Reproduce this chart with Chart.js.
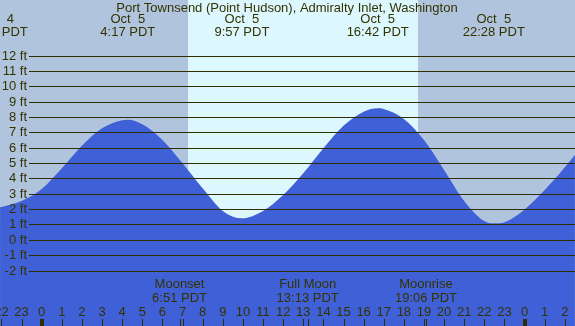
<!DOCTYPE html>
<html>
<head>
<meta charset="utf-8">
<script src="https://cdn.jsdelivr.net/npm/chart.js@4"></script>
<style>
  body { margin: 0; background: #b0c4de; }
  canvas { display: block; }
</style>
</head>
<body>
<canvas id="tide" width="575" height="326"></canvas>
<script>
// tide curve, hours from Oct 5 00:00 PDT -> feet
const tideHours = [-2.07, -1, 0, 1, 2, 3, 4, 4.28, 5, 6, 7, 8, 9, 9.95, 11, 12, 13, 14, 15, 16, 16.7, 17, 18, 19, 20, 21, 22, 22.47, 23, 24, 25, 26, 26.5];
const tideFeet  = [2.12, 2.53, 3.31, 4.66, 6.13, 7.26, 7.78, 7.82, 7.52, 6.5, 4.98, 3.35, 1.88, 1.4, 1.88, 2.92, 4.33, 5.96, 7.43, 8.34, 8.56, 8.52, 7.87, 6.5, 4.55, 2.53, 1.22, 1.07, 1.15, 1.98, 3.24, 4.72, 5.52];

// high / low labels along the top
const eventHours = [-2.24, 4.28, 9.95, 16.7, 22.47];
const eventDates = ["Oct  4", "Oct  5", "Oct  5", "Oct  5", "Oct  5"];
const eventTimes = ["21:46 PDT", "4:17 PDT", "9:57 PDT", "16:42 PDT", "22:28 PDT"];

// moon events
const moonHours = [6.85, 13.22, 19.1];
const moonNames = ["Moonset", "Full Moon", "Moonrise"];
const moonTimes = ["6:51 PDT", "13:13 PDT", "19:06 PDT"];

// daylight
const sunrise = 7.25;
const sunset = 18.7;

// axes
const yTicks = [-2, -1, 0, 1, 2, 3, 4, 5, 6, 7, 8, 9, 10, 11, 12];
const hourTicks = [-2, -1, 0, 1, 2, 3, 4, 5, 6, 7, 8, 9, 10, 11, 12, 13, 14, 15, 16, 17, 18, 19, 20, 21, 22, 23, 24, 25, 26];
const hourLabels = ["22", "23", "0", "1", "2", "3", "4", "5", "6", "7", "8", "9", "10", "11", "12", "13", "14", "15", "16", "17", "18", "19", "20", "21", "22", "23", "0", "1", "2"];
const midnights = [0, 24];

const title = "Port Townsend (Point Hudson), Admiralty Inlet, Washington";

const textColor = "#333300";
const lineColor = "#2e2e00";
const font = '13px "Liberation Sans", Arial, sans-serif';

const decor = {
  id: "decor",
  beforeDatasetsDraw(chart) {
    const { ctx, chartArea: a, scales: { x } } = chart;
    ctx.save();
    ctx.fillStyle = "#b0c4de";
    ctx.fillRect(a.left, a.top, a.right - a.left, a.bottom - a.top);
    const x1 = Math.round(x.getPixelForValue(sunrise));
    const x2 = Math.round(x.getPixelForValue(sunset));
    ctx.fillStyle = "#ddf7ff";
    ctx.fillRect(x1, a.top, x2 - x1, a.bottom - a.top);
    ctx.restore();
  },
  afterDatasetsDraw(chart) {
    const { ctx, chartArea: a, scales: { x, y } } = chart;
    ctx.save();
    ctx.font = font;
    ctx.fillStyle = textColor;
    ctx.textBaseline = "middle";

    // horizontal grid + ft labels
    ctx.strokeStyle = lineColor;
    ctx.lineWidth = 1;
    yTicks.forEach((v) => {
      const py = Math.round(y.getPixelForValue(v)) + 0.5;
      ctx.beginPath();
      ctx.moveTo(29, py);
      ctx.lineTo(a.right, py);
      ctx.stroke();
      ctx.textAlign = "right";
      ctx.fillText(v + " ft", 27, py);
    });

    // title and tide events
    ctx.textAlign = "center";
    ctx.fillText(title, 287, 8);
    eventHours.forEach((h, i) => {
      const px = x.getPixelForValue(h);
      ctx.fillText(eventDates[i], px, 19);
      ctx.fillText(eventTimes[i], px, 32);
    });

    // moon events
    moonHours.forEach((h, i) => {
      const px = x.getPixelForValue(h);
      ctx.fillText(moonNames[i], px, 284);
      ctx.fillText(moonTimes[i], px, 298);
      ctx.fillStyle = lineColor;
      ctx.fillRect(Math.round(px), 319, 1, 7);
      ctx.fillStyle = textColor;
    });

    // hour ticks
    hourTicks.forEach((h, i) => {
      const px = x.getPixelForValue(h);
      ctx.fillText(hourLabels[i], px, 312);
      ctx.fillStyle = lineColor;
      if (midnights.includes(h)) ctx.fillRect(Math.round(px) - 2, 319, 4, 7);
      else ctx.fillRect(Math.round(px), 319, 1, 7);
      ctx.fillStyle = textColor;
    });
    ctx.restore();
  },
};

new Chart(document.getElementById("tide"), {
  type: "line",
  data: {
    datasets: [{
      data: tideHours.map((h, i) => ({ x: h, y: tideFeet[i] })),
      fill: "start",
      backgroundColor: "#4060d8",
      borderWidth: 0,
      pointRadius: 0,
      cubicInterpolationMode: "monotone",
    }],
  },
  options: {
    responsive: false,
    animation: false,
    layout: { padding: 0 },
    plugins: { legend: { display: false }, tooltip: { enabled: false } },
    scales: {
      x: { type: "linear", min: -2.073, max: 26.506, display: false },
      y: { min: -5.613, max: 15.615, display: false },
    },
  },
  plugins: [decor],
});
</script>
</body>
</html>
